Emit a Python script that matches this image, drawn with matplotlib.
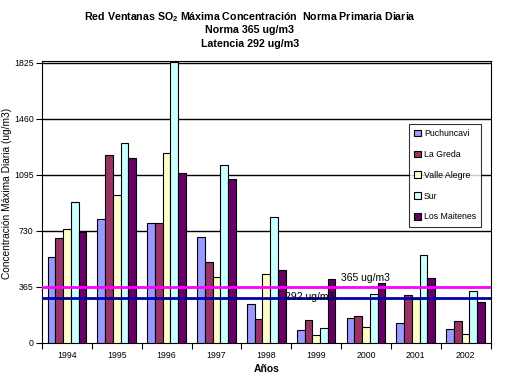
import matplotlib
matplotlib.use("Agg")
import matplotlib.pyplot as plt
import numpy as np

plt.rcParams['font.family'] = ['Liberation Sans', 'DejaVu Sans']
plt.rcParams['mathtext.fontset'] = 'custom'
plt.rcParams['mathtext.rm'] = 'Liberation Sans'
plt.rcParams['mathtext.bf'] = 'Liberation Sans:bold'

years = ["1994", "1995", "1996", "1997", "1998", "1999", "2000", "2001", "2002"]
puchuncavi = [561, 805, 781, 688, 256, 83, 165, 133, 89]
la_greda = [683, 1222, 781, 530, 159, 148, 174, 315, 141]
valle_alegre = [742, 966, 1239, 432, 447, 55, 107, 285, 61]
sur = [918, 1304, 1830, 1157, 823, 100, 317, 571, 341]
los_maitenes = [725, 1207, 1105, 1066, 478, 419, 393, 426, 265]
series_names = ["Puchuncavi", "La Greda", "Valle Alegre", "Sur", "Los Maitenes"]
series_colors = ["#9999FF", "#993366", "#FFFFCC", "#CCFFFF", "#660066"]
yticks = [0, 365, 730, 1095, 1460, 1825]
norma = 365
latencia = 292

fig = plt.figure(figsize=(5.1, 3.8), dpi=100)
ax = fig.add_axes([0.0824, 0.0974, 0.8794, 0.7429])

series = [puchuncavi, la_greda, valle_alegre, sur, los_maitenes]
x = np.arange(len(years))
bw = 0.155
for i, (vals, name, col) in enumerate(zip(series, series_names, series_colors)):
    ax.bar(x + (i - 2) * bw, vals, width=bw, color=col, edgecolor='black',
           linewidth=0.8, label=name, zorder=3)

ax.set_ylim(0, 1838)
ax.set_xlim(-0.5, len(years) - 0.5)
ax.set_yticks(yticks)
ax.set_yticklabels([str(t) for t in yticks], fontsize=6.3)
for t in yticks[1:]:
    ax.axhline(t, color='black', linewidth=1.0, zorder=1)

ax.set_xticks(x)
ax.set_xticklabels(years, fontsize=6.3)
ax.set_xticks(np.arange(-0.5, len(years)), minor=True)
ax.tick_params(axis='x', which='major', length=0, pad=6)
ax.tick_params(axis='x', which='minor', length=4, width=0.8, direction='out')
ax.tick_params(axis='y', length=4, width=0.8, direction='out', pad=2)

for s in ax.spines.values():
    s.set_linewidth(0.8)
    s.set_color('black')

ax.axhline(norma, color='#FF00FF', linewidth=2, zorder=4)
ax.axhline(latencia, color='#0000AA', linewidth=2, zorder=4)
ax.text(5.5, norma + 25, "365 ug/m3", fontsize=7.5, zorder=5, va='bottom')
ax.text(4.37, latencia + 5, "292 ug/m3", fontsize=7.5, zorder=5, va='center')

ax.set_ylabel("Concentración Máxima Diaria (ug/m3)", fontsize=7.3)
ax.yaxis.set_label_coords(-0.068, 0.528)
ax.set_xlabel("Años", fontsize=7.5, fontweight='bold', labelpad=3)

cx = 0.49
fig.text(cx, 0.955, r"Red Ventanas SO$_\mathbf{2}$ Máxima Concentración  Norma Primaria Diaria",
         ha='center', va='center', fontsize=7.7, fontweight='bold')
fig.text(cx, 0.92, "Norma 365 ug/m3", ha='center', va='center', fontsize=7.7, fontweight='bold')
fig.text(cx, 0.885, "Latencia 292 ug/m3", ha='center', va='center', fontsize=7.7, fontweight='bold')

leg = ax.legend(loc='upper left', bbox_to_anchor=(0.818, 0.776), fontsize=6.3,
                frameon=True, fancybox=False, edgecolor='black', handlelength=0.8,
                handleheight=0.8, handletextpad=0.3, labelspacing=1.35,
                borderpad=0.6, borderaxespad=0)
leg.get_frame().set_linewidth(0.8)
leg.set_zorder(6)

fig.savefig("out.png", dpi=100)
